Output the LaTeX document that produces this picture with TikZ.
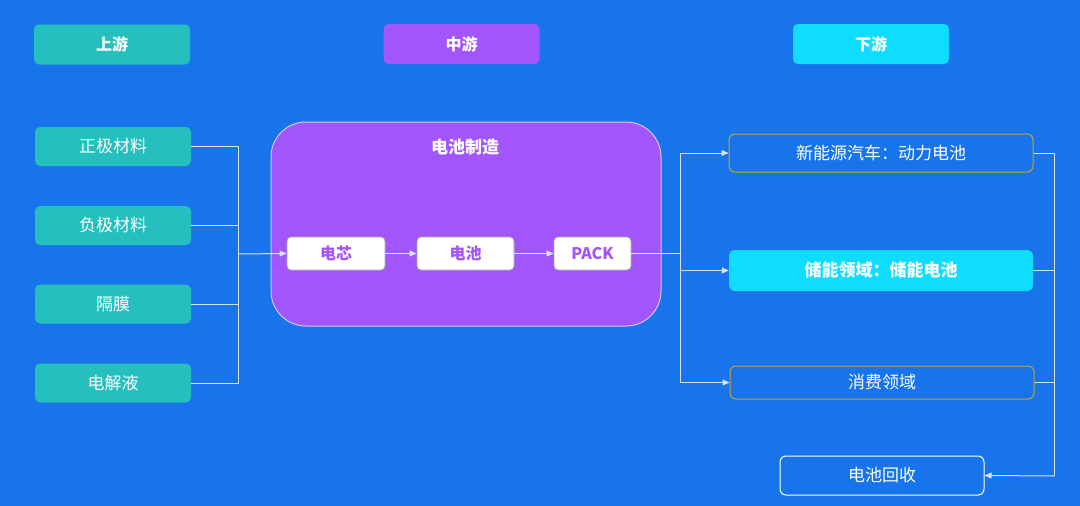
\documentclass[tikz,border=0pt]{standalone}
\usepackage{fontspec}
\setmainfont{Noto Sans CJK SC}
\usetikzlibrary{arrows.meta, positioning}
\definecolor{bgblue}{HTML}{1874EB}
\definecolor{upteal}{HTML}{25BFBD}
\definecolor{midpurple}{HTML}{A155FA}
\definecolor{downcyan}{HTML}{0FDDFF}
\definecolor{goldline}{HTML}{C8A22A}
\definecolor{linkclr}{HTML}{D6E3FB}
\definecolor{lavender}{HTML}{D9C4FF}
\tikzset{
    head/.style={rounded corners=5pt, minimum width=156pt, minimum height=40pt, inner sep=0pt,
        text=white, font=\bfseries\fontsize{16}{16}\selectfont},
    mat/.style={rounded corners=5pt, fill=upteal, minimum width=156pt, minimum height=39pt, inner sep=0pt,
        text=white, font=\fontsize{17}{17}\selectfont},
    stepbox/.style={rounded corners=4pt, fill=white, draw=gray!70, line width=0.8pt, minimum height=33pt,
        inner sep=0pt, text=midpurple, font=\bfseries\fontsize{16}{16}\selectfont},
    usebox/.style={rounded corners=6pt, minimum width=304pt, inner sep=0pt, text=white,
        font=\fontsize{17}{17}\selectfont},
    link/.style={draw=linkclr, line width=1pt},
    tip/.style={-{Triangle[length=7pt,width=6pt]}}
}
\begin{document}
\begin{tikzpicture}[x=1pt, y=-1pt]
    \fill[bgblue] (0,0) rectangle (1080,506);
    % headers
    \node[head, fill=upteal] (up) at (112,44.5) {上游};
    \node[head, fill=midpurple] (mid) at (461.5,44) {中游};
    \node[head, fill=downcyan] (down) at (871,44) {下游};
    % upstream
    \node[mat] (m1) at (113,146.5) {正极材料};
    \node[mat] (m2) at (113,225.5) {负极材料};
    \node[mat] (m3) at (113,304) {隔膜};
    \node[mat] (m4) at (113,383) {电解液};
    % midstream
    \node[rounded corners=35pt, fill=midpurple, draw=lavender, line width=1pt,
        minimum width=390pt, minimum height=204pt] (make) at (466,224) {};
    \node[text=white, font=\bfseries\fontsize{17}{17}\selectfont] (maketitle) at (465,147) {电池制造};
    \node[stepbox, minimum width=98pt] (cell) at (336,253.5) {电芯};
    \node[stepbox, minimum width=97pt] (batt) at (465.5,253.5) {电池};
    \node[stepbox, minimum width=77pt] (pack) at (592.5,253.5) {PACK};
    % downstream
    \node[usebox, draw=goldline, line width=1pt, minimum height=38pt] (ev) at (881,153) {新能源汽车：动力电池};
    \node[usebox, fill=downcyan, minimum height=41pt, font=\bfseries\fontsize{17}{17}\selectfont] (ess) at (881,270.5) {储能领域：储能电池};
    \node[usebox, draw=goldline, line width=1pt, minimum height=33pt] (cons) at (882,382.5) {消费领域};
    \node[usebox, draw=white, line width=1pt, minimum width=204pt, minimum height=39pt] (recyc) at (882,475.5) {电池回收};
    % connectors
    \coordinate (lbus) at (238,254);
    \foreach \m in {m1,m2,m3,m4}{
    \draw[link] (\m.east) -| (lbus);}
    \draw[link, tip] (lbus) -- (cell.west);
    \draw[link, tip] (cell) -- (batt);
    \draw[link, tip] (batt) -- (pack);
    \coordinate (rbus) at (680,253.5);
    \draw[link] (pack.east) -- (rbus);
    \foreach \u in {ev,ess,cons}{
    \draw[link, tip] (rbus) |- (\u.west);}
    \coordinate (cbus) at (1054,476);
    \foreach \u in {ev,ess,cons}{
    \draw[link] (\u.east) -| (cbus);}
    \draw[link, tip] (cbus) -- (recyc.east);
\end{tikzpicture}
\end{document}
